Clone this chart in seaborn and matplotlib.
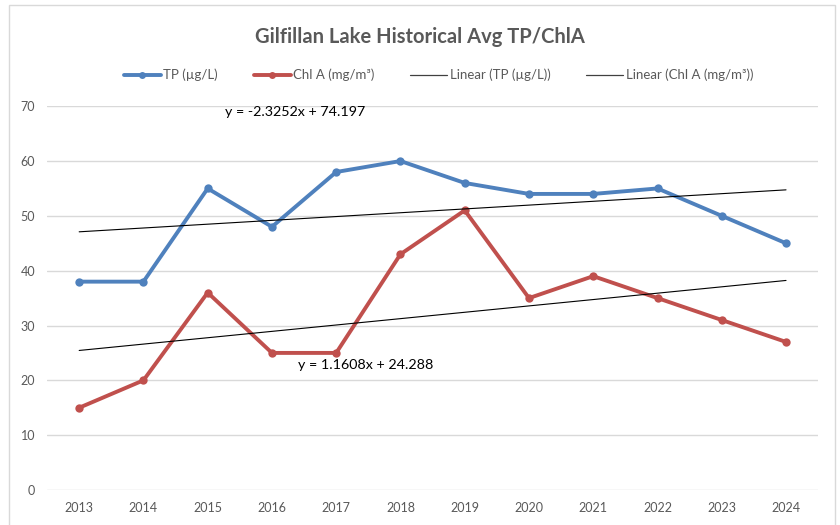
import numpy as np
import pandas as pd
import matplotlib
matplotlib.use("Agg")
import matplotlib.pyplot as plt
import seaborn as sns
from matplotlib.patches import Rectangle
from matplotlib.lines import Line2D

# data
years = ["2013", "2014", "2015", "2016", "2017", "2018",
         "2019", "2020", "2021", "2022", "2023", "2024"]
tp_values = [38, 38, 55, 48, 58, 60, 56, 54, 54, 55, 50, 45]
chla_values = [15, 20, 36, 25, 25, 43, 51, 35, 39, 35, 31, 27]
tp_label = "TP (µg/L)"
chla_label = "Chl A (mg/m³)"
tp_eq_text = "y = -2.3252x + 74.197"
chla_eq_text = "y = 1.1608x + 24.288"

TP_COLOR = "#4F81BD"
CHLA_COLOR = "#C0504D"
TEXT_COLOR = "#595959"
GRID_COLOR = "#d9d9d9"

sns.set_style("white")
plt.rcParams["font.family"] = ["Lato", "DejaVu Sans"]

pos = np.arange(len(years))
df = pd.DataFrame({
    "pos": np.concatenate([pos, pos]),
    "value": tp_values + chla_values,
    "series": [tp_label] * len(years) + [chla_label] * len(years),
})

fig = plt.figure(figsize=(8.4, 5.25), dpi=100)
ax = fig.add_axes([0.056, 0.0667, 0.918, 0.731])

sns.lineplot(data=df, x="pos", y="value", hue="series",
             palette={tp_label: TP_COLOR, chla_label: CHLA_COLOR},
             marker="o", markersize=6, markeredgewidth=0, linewidth=2.8,
             ax=ax, legend=False)

# linear trendlines (Excel style, x = 1..n)
xs = pos + 1
for vals in (tp_values, chla_values):
    slope, intercept = np.polyfit(xs, vals, 1)
    sns.lineplot(x=pos, y=slope * xs + intercept, color="black",
                 linewidth=0.8, ax=ax, legend=False)

ax.text(3.36, 68.9, tp_eq_text, ha="center", va="center", fontsize=10.3, color="black")
ax.text(4.46, 22.8, chla_eq_text, ha="center", va="center", fontsize=10.3, color="black")

ax.set_xlim(-0.5, len(years) - 0.5)
ax.set_ylim(0, 70)
ax.set_yticks(range(0, 71, 10))
ax.set_xticks(pos)
ax.set_xticklabels(years)
ax.yaxis.grid(True, color=GRID_COLOR, linewidth=1)
ax.set_axisbelow(True)
for s in ax.spines.values():
    s.set_visible(False)
ax.tick_params(axis="both", length=0, labelsize=9, labelcolor=TEXT_COLOR, pad=9)
ax.tick_params(axis="y", pad=8.5)
ax.set_xlabel("")
ax.set_ylabel("")

fig.text(0.5, 0.93, "Gilfillan Lake Historical Avg TP/ChlA", ha="center", va="center",
         fontsize=14.5, fontweight="bold", color=TEXT_COLOR)

handles = [
    Line2D([0, 0.5, 1], [0, 0, 0], color=TP_COLOR, linewidth=2.8, marker="o",
           markersize=5, markeredgewidth=0, markevery=[1]),
    Line2D([0, 0.5, 1], [0, 0, 0], color=CHLA_COLOR, linewidth=2.8, marker="o",
           markersize=5, markeredgewidth=0, markevery=[1]),
    Line2D([], [], color="#404040", linewidth=0.9),
    Line2D([], [], color="#404040", linewidth=0.9),
]
labels = [tp_label, chla_label, "Linear (" + tp_label + ")", "Linear (" + chla_label + ")"]
fig.legend(handles, labels, loc="center", bbox_to_anchor=(0.522, 0.857), ncol=4,
           frameon=False, fontsize=9.5, labelcolor=TEXT_COLOR, handlelength=2.8,
           handletextpad=0.2, columnspacing=2.7, numpoints=1)

fig.patches.append(Rectangle((9 / 840, -0.05), 826 / 840, 1 - 5 / 525 + 0.05,
                             transform=fig.transFigure, fill=False,
                             edgecolor=GRID_COLOR, linewidth=1))

fig.savefig("out.png", dpi=100)
